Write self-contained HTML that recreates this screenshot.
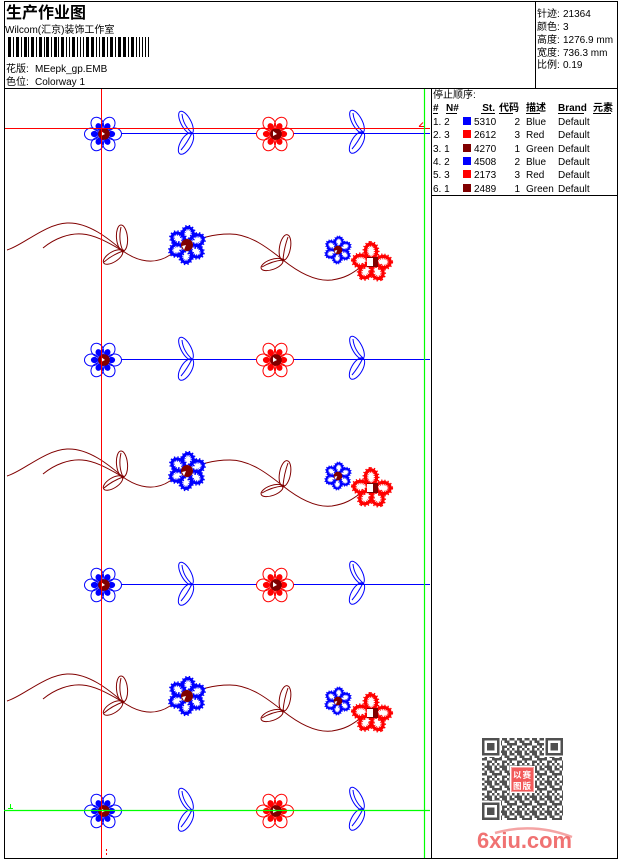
<!DOCTYPE html>
<html><head><meta charset="utf-8"><style>
html,body{margin:0;padding:0;background:#fff;}
svg{display:block}
text{font-family:"Liberation Sans","Noto Sans CJK SC",sans-serif;font-size:10px;fill:#000}
</style></head><body>
<svg width="620" height="860" viewBox="0 0 620 860" xmlns="http://www.w3.org/2000/svg">
<defs>
 <g id="of">
  <g fill="#fff" stroke="none">
   <ellipse cx="11.5" cy="0" rx="7" ry="6" transform="rotate(-120)"/>
   <ellipse cx="11.5" cy="0" rx="7" ry="6" transform="rotate(-60)"/>
   <ellipse cx="11.5" cy="0" rx="7" ry="6" transform="rotate(0)"/>
   <ellipse cx="11.5" cy="0" rx="7" ry="6" transform="rotate(60)"/>
   <ellipse cx="11.5" cy="0" rx="7" ry="6" transform="rotate(120)"/>
   <ellipse cx="11.5" cy="0" rx="7" ry="6" transform="rotate(180)"/>
  </g>
  <g fill="none" stroke="currentColor" stroke-width="1">
   <ellipse cx="11.5" cy="0" rx="7" ry="6" transform="rotate(-120)"/>
   <ellipse cx="11.5" cy="0" rx="7" ry="6" transform="rotate(-60)"/>
   <ellipse cx="11.5" cy="0" rx="7" ry="6" transform="rotate(0)"/>
   <ellipse cx="11.5" cy="0" rx="7" ry="6" transform="rotate(60)"/>
   <ellipse cx="11.5" cy="0" rx="7" ry="6" transform="rotate(120)"/>
   <ellipse cx="11.5" cy="0" rx="7" ry="6" transform="rotate(180)"/>
  </g>
  <g fill="currentColor">
   <ellipse cx="8.5" cy="0" rx="3.6" ry="3.1" transform="rotate(-120)"/>
   <ellipse cx="8.5" cy="0" rx="3.6" ry="3.1" transform="rotate(-60)"/>
   <ellipse cx="8.5" cy="0" rx="3.6" ry="3.1" transform="rotate(0)"/>
   <ellipse cx="8.5" cy="0" rx="3.6" ry="3.1" transform="rotate(60)"/>
   <ellipse cx="8.5" cy="0" rx="3.6" ry="3.1" transform="rotate(120)"/>
   <ellipse cx="8.5" cy="0" rx="3.6" ry="3.1" transform="rotate(180)"/>
  </g>
  <circle cx="1" cy="0" r="5.8" fill="#800000"/>
  <path d="M-2,-3 L2,0 L-2,2 Z" fill="#fff"/>
 </g>
 <g id="lf" fill="none" stroke="currentColor" stroke-width="1">
  <ellipse rx="12.5" ry="5" transform="translate(-6,-10.5) rotate(-118)"/>
  <path d="M0,0 Q-9,-8 -10,-19"/>
  <ellipse rx="12" ry="5.5" transform="translate(-6,10.5) rotate(120)"/>
  <path d="M0,0 Q-5,10 -11,17"/>
 </g>
 <g id="ff">
  <g fill="#fff" stroke="currentColor" stroke-width="3">
   <ellipse cx="10.5" cy="0" rx="7" ry="5.4" transform="rotate(-85)"/>
   <ellipse cx="10.5" cy="0" rx="7" ry="5.4" transform="rotate(-25)"/>
   <ellipse cx="10.5" cy="0" rx="7" ry="5.4" transform="rotate(35)"/>
   <ellipse cx="10.5" cy="0" rx="7" ry="5.4" transform="rotate(95)"/>
   <ellipse cx="10.5" cy="0" rx="7" ry="5.4" transform="rotate(155)"/>
   <ellipse cx="10.5" cy="0" rx="7" ry="5.4" transform="rotate(215)"/>
  </g>
  <g fill="none" stroke="currentColor" stroke-width="5.5" stroke-dasharray="1 1.6">
   <ellipse cx="10.5" cy="0" rx="7" ry="5.4" transform="rotate(-85)"/>
   <ellipse cx="10.5" cy="0" rx="7" ry="5.4" transform="rotate(-25)"/>
   <ellipse cx="10.5" cy="0" rx="7" ry="5.4" transform="rotate(35)"/>
   <ellipse cx="10.5" cy="0" rx="7" ry="5.4" transform="rotate(95)"/>
   <ellipse cx="10.5" cy="0" rx="7" ry="5.4" transform="rotate(155)"/>
   <ellipse cx="10.5" cy="0" rx="7" ry="5.4" transform="rotate(215)"/>
  </g>
  <circle cx="0" cy="0" r="6" fill="#800000"/>
  <path d="M-5,1 L-1,0 L-3,5 Z" fill="#fff"/>
 </g>
 <g id="ff5">
  <g fill="#fff" stroke="#ff0000" stroke-width="3.2">
   <ellipse cx="11" cy="0" rx="7.2" ry="5.6" transform="rotate(-95)"/>
   <ellipse cx="11" cy="0" rx="7.2" ry="5.6" transform="rotate(0)"/>
   <ellipse cx="11" cy="0" rx="7.2" ry="5.6" transform="rotate(62)"/>
   <ellipse cx="11" cy="0" rx="7.2" ry="5.6" transform="rotate(124)"/>
   <ellipse cx="11" cy="0" rx="7.2" ry="5.6" transform="rotate(186)"/>
  </g>
  <g fill="none" stroke="#ff0000" stroke-width="5.8" stroke-dasharray="1 1.6">
   <ellipse cx="11" cy="0" rx="7.2" ry="5.6" transform="rotate(-95)"/>
   <ellipse cx="11" cy="0" rx="7.2" ry="5.6" transform="rotate(0)"/>
   <ellipse cx="11" cy="0" rx="7.2" ry="5.6" transform="rotate(62)"/>
   <ellipse cx="11" cy="0" rx="7.2" ry="5.6" transform="rotate(124)"/>
   <ellipse cx="11" cy="0" rx="7.2" ry="5.6" transform="rotate(186)"/>
  </g>
  <rect x="-5" y="-5" width="11" height="10" fill="#800000"/>
  <rect x="-5" y="-4" width="6" height="8" fill="#fff"/>
 </g>
 <g id="curvy">
  <g fill="none" stroke="#800000" stroke-width="1">
   <path d="M7,250 C22,246 45,224 67,223 C88,222 108,238 123,251"/>
   <path d="M43,248 C55,238 70,233 82,234 C97,235 112,245 123,251"/>
   <path d="M123,251 C138,262 155,265 170,255 L187,245 C200,238 212,234 230,234 C250,234 268,248 283,260 C298,272 315,282 332,280 C345,278 352,274 362,266"/>
   <ellipse rx="13" ry="5.5" transform="translate(122,238) rotate(-95)"/>
   <path d="M123,251 Q118,240 121,227"/>
   <ellipse rx="11" ry="5" transform="translate(113,257) rotate(148)"/>
   <path d="M123,251 Q112,255 104,262"/>
   <ellipse rx="13" ry="5.5" transform="translate(285,247.5) rotate(-80)"/>
   <path d="M283,260 Q284,248 288,237"/>
   <ellipse rx="11.5" ry="5" transform="translate(272,264.5) rotate(160)"/>
   <path d="M283,260 Q272,261 262,267"/>
  </g>
  <circle cx="123" cy="251" r="1.5" fill="#800000"/>
  <circle cx="283" cy="260" r="1.5" fill="#800000"/>
  <use href="#ff" transform="translate(187,245)" color="#0000ff"/>
  <use href="#ff" transform="translate(338,250) scale(0.72)" color="#0000ff"/>
  <use href="#ff5" transform="translate(372,262)"/>
 </g>
 <g id="lrow">
  <line x1="118" y1="133.5" x2="430" y2="133.5" stroke="#0000ff" stroke-width="1"/>
  <use href="#of" transform="translate(103,134)" color="#0000ff"/>
  <use href="#lf" transform="translate(192,133)" color="#0000ff"/>
  <use href="#of" transform="translate(275,134)" color="#ff0000"/>
  <use href="#lf" transform="translate(363,132)" color="#0000ff"/>
 </g>
 <pattern id="qr" x="482" y="738" width="15" height="15" patternUnits="userSpaceOnUse">
  <g fill="#505050">
   <rect x="0" y="0" width="2.5" height="2.5"/><rect x="5" y="0" width="5" height="2.5"/><rect x="12.5" y="0" width="2.5" height="2.5"/>
   <rect x="2.5" y="2.5" width="2.5" height="2.5"/><rect x="7.5" y="2.5" width="5" height="2.5"/>
   <rect x="0" y="5" width="5" height="2.5"/><rect x="10" y="5" width="5" height="2.5"/>
   <rect x="5" y="7.5" width="5" height="2.5"/><rect x="12.5" y="7.5" width="2.5" height="2.5"/>
   <rect x="0" y="10" width="2.5" height="2.5"/><rect x="5" y="10" width="2.5" height="2.5"/><rect x="10" y="10" width="2.5" height="2.5"/>
   <rect x="2.5" y="12.5" width="7.5" height="2.5"/><rect x="12.5" y="12.5" width="2.5" height="2.5"/>
  </g>
 </pattern>
</defs>

<!-- frame -->
<g stroke="#000" stroke-width="1" fill="none">
 <line x1="4" y1="1.5" x2="618" y2="1.5"/>
 <line x1="4.5" y1="1" x2="4.5" y2="859"/>
 <line x1="617.5" y1="1" x2="617.5" y2="859"/>
 <line x1="4" y1="858.5" x2="618" y2="858.5"/>
 <line x1="4" y1="88.5" x2="618" y2="88.5"/>
 <line x1="535.5" y1="1" x2="535.5" y2="88"/>
 <line x1="431.5" y1="88" x2="431.5" y2="859"/>
 <line x1="431" y1="195.5" x2="618" y2="195.5"/>
</g>

<!-- header -->
<text x="6" y="18" style="font-size:16px;font-weight:bold">生产作业图</text>
<text x="5" y="33">Wilcom(汇京)装饰工作室</text>
<g fill="#000">
 <rect x="8" y="37" width="3" height="20"/><rect x="13" y="37" width="1" height="20"/><rect x="16" y="37" width="3" height="20"/><rect x="21" y="37" width="1" height="20"/>
 <rect x="24" y="37" width="3" height="20"/><rect x="28" y="37" width="1" height="20"/><rect x="31" y="37" width="3" height="20"/><rect x="36" y="37" width="1" height="20"/>
 <rect x="39" y="37" width="3" height="20"/><rect x="44" y="37" width="1" height="20"/><rect x="46" y="37" width="3" height="20"/><rect x="51" y="37" width="1" height="20"/>
 <rect x="54" y="37" width="3" height="20"/><rect x="58" y="37" width="1" height="20"/><rect x="61" y="37" width="3" height="20"/><rect x="66" y="37" width="1" height="20"/>
 <rect x="69" y="37" width="1" height="20"/><rect x="72" y="37" width="3" height="20"/><rect x="77" y="37" width="1" height="20"/><rect x="80" y="37" width="1" height="20"/>
 <rect x="83" y="37" width="1" height="20"/><rect x="86" y="37" width="3" height="20"/><rect x="91" y="37" width="3" height="20"/><rect x="96" y="37" width="1" height="20"/>
 <rect x="99" y="37" width="1" height="20"/><rect x="102" y="37" width="3" height="20"/><rect x="107" y="37" width="1" height="20"/><rect x="110" y="37" width="3" height="20"/>
 <rect x="115" y="37" width="1" height="20"/><rect x="118" y="37" width="3" height="20"/><rect x="123" y="37" width="3" height="20"/><rect x="128" y="37" width="1" height="20"/>
 <rect x="131" y="37" width="3" height="20"/><rect x="136" y="37" width="1" height="20"/><rect x="139" y="37" width="1" height="20"/><rect x="142" y="37" width="1" height="20"/>
 <rect x="145" y="37" width="1" height="20"/><rect x="148" y="37" width="1" height="20"/>
</g>
<text x="6" y="72">花版:</text><text x="35" y="72">MEepk_gp.EMB</text>
<text x="6" y="85">色位:</text><text x="35" y="85">Colorway 1</text>

<!-- info box -->
<text x="537" y="17">针迹:</text><text x="563" y="17">21364</text>
<text x="537" y="30">颜色:</text><text x="563" y="30">3</text>
<text x="537" y="43">高度:</text><text x="563" y="43">1276.9 mm</text>
<text x="537" y="56">宽度:</text><text x="563" y="56">736.3 mm</text>
<text x="537" y="68">比例:</text><text x="563" y="68">0.19</text>

<!-- table -->
<text x="433" y="98">停止顺序:</text>
<g style="font-weight:bold">
 <text x="433" y="111">#</text>
 <text x="446" y="111">N#</text>
 <text x="495" y="111" text-anchor="end">St.</text>
 <text x="499" y="111">代码</text>
 <text x="526" y="111">描述</text>
 <text x="558" y="111">Brand</text>
 <text x="593" y="111">元素</text>
</g>
<g stroke="#000" stroke-width="1">
 <line x1="433" y1="113.5" x2="438" y2="113.5"/>
 <line x1="446" y1="113.5" x2="457" y2="113.5"/>
 <line x1="481" y1="113.5" x2="495" y2="113.5"/>
 <line x1="499" y1="113.5" x2="513" y2="113.5"/>
 <line x1="526" y1="113.5" x2="540" y2="113.5"/>
 <line x1="558" y1="113.5" x2="584" y2="113.5"/>
 <line x1="593" y1="113.5" x2="611" y2="113.5"/>
</g>
<g>
 <text x="433" y="125">1. 2</text><rect x="463" y="117" width="8" height="8" fill="#0000ff"/><text x="474" y="125">5310</text><text x="520" y="125" text-anchor="end">2</text><text x="526" y="125">Blue</text><text x="558" y="125">Default</text>
 <text x="433" y="138">2. 3</text><rect x="463" y="130" width="8" height="8" fill="#ff0000"/><text x="474" y="138">2612</text><text x="520" y="138" text-anchor="end">3</text><text x="526" y="138">Red</text><text x="558" y="138">Default</text>
 <text x="433" y="152">3. 1</text><rect x="463" y="144" width="8" height="8" fill="#800000"/><text x="474" y="152">4270</text><text x="520" y="152" text-anchor="end">1</text><text x="526" y="152">Green</text><text x="558" y="152">Default</text>
 <text x="433" y="165">4. 2</text><rect x="463" y="157" width="8" height="8" fill="#0000ff"/><text x="474" y="165">4508</text><text x="520" y="165" text-anchor="end">2</text><text x="526" y="165">Blue</text><text x="558" y="165">Default</text>
 <text x="433" y="178">5. 3</text><rect x="463" y="170" width="8" height="8" fill="#ff0000"/><text x="474" y="178">2173</text><text x="520" y="178" text-anchor="end">3</text><text x="526" y="178">Red</text><text x="558" y="178">Default</text>
 <text x="433" y="192">6. 1</text><rect x="463" y="184" width="8" height="8" fill="#800000"/><text x="474" y="192">2489</text><text x="520" y="192" text-anchor="end">1</text><text x="526" y="192">Green</text><text x="558" y="192">Default</text>
</g>

<!-- design rows -->
<use href="#lrow"/>
<use href="#lrow" transform="translate(0,226)"/>
<use href="#lrow" transform="translate(0,451)"/>
<use href="#lrow" transform="translate(0,677)"/>
<use href="#curvy"/>
<use href="#curvy" transform="translate(0,226)"/>
<use href="#curvy" transform="translate(0,451)"/>

<!-- guide lines -->
<line x1="5" y1="128.5" x2="430" y2="128.5" stroke="#ff0000" stroke-width="1"/>
<line x1="101.5" y1="89" x2="101.5" y2="858" stroke="#ff0000" stroke-width="1"/>
<path d="M419,126.5 L423,122.5 M419,126.5 L424,126.5" stroke="#ff0000" stroke-width="1" fill="none"/>
<line x1="424.5" y1="89" x2="424.5" y2="858" stroke="#00ff00" stroke-width="1.2"/>
<line x1="4" y1="810.5" x2="430" y2="810.5" stroke="#00ff00" stroke-width="1.2"/>
<path d="M10.5,804 L10.5,808 M8,808.5 L13,808.5" stroke="#00ff00" stroke-width="1" fill="none"/>
<rect x="106" y="849" width="1" height="2" fill="#ff0000"/>
<rect x="106" y="853" width="1" height="2" fill="#ff0000"/>

<!-- QR + logo -->
<rect x="482" y="738" width="81" height="82" fill="url(#qr)"/>
<g>
 <rect x="481" y="737" width="20" height="20" fill="#fff"/>
 <rect x="482" y="738" width="17.5" height="17.5" fill="#505050"/>
 <rect x="484.5" y="740.5" width="12.5" height="12.5" fill="#fff"/>
 <rect x="487" y="743" width="7.5" height="7.5" fill="#505050"/>
 <rect x="544" y="737" width="20" height="20" fill="#fff"/>
 <rect x="545.5" y="738" width="17.5" height="17.5" fill="#505050"/>
 <rect x="548" y="740.5" width="12.5" height="12.5" fill="#fff"/>
 <rect x="550.5" y="743" width="7.5" height="7.5" fill="#505050"/>
 <rect x="481" y="801" width="20" height="20" fill="#fff"/>
 <rect x="482" y="802.5" width="17.5" height="17.5" fill="#505050"/>
 <rect x="484.5" y="805" width="12.5" height="12.5" fill="#fff"/>
 <rect x="487" y="807.5" width="7.5" height="7.5" fill="#505050"/>
</g>
<rect x="510" y="766" width="25" height="27" fill="#fff"/>
<rect x="511.5" y="767.5" width="22" height="24" fill="#f25a5a" stroke="#f7a0a0" stroke-width="1"/>
<text x="513" y="778" style="font-size:8.5px;fill:#fff;font-weight:bold">以</text>
<text x="522.5" y="778" style="font-size:8.5px;fill:#fff;font-weight:bold">赛</text>
<text x="513" y="789" style="font-size:8.5px;fill:#fff;font-weight:bold">图</text>
<text x="522.5" y="789" style="font-size:8.5px;fill:#fff;font-weight:bold">版</text>
<path d="M495,833 Q533,822 572,837" stroke="#f4a4a4" stroke-width="2.5" fill="none"/>
<text x="477" y="848" textLength="95" lengthAdjust="spacingAndGlyphs" style="font-size:22px;font-weight:bold;fill:#f07272">6xiu.com</text>
</svg>
</body></html>
